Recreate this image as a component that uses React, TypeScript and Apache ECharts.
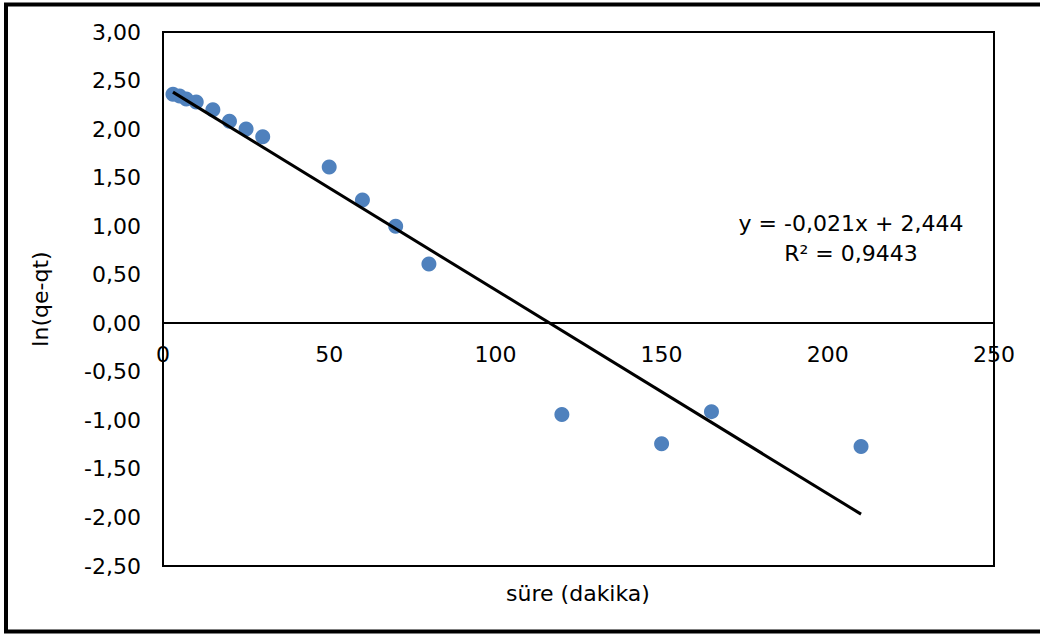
import React, { useEffect, useRef } from "react";
import * as echarts from "echarts";

const times = [3, 5, 7, 10, 15, 20, 25, 30, 50, 60, 70, 80, 120, 150, 165, 210];
const lnValues = [2.36, 2.34, 2.31, 2.28, 2.2, 2.08, 2.0, 1.92, 1.61, 1.27, 1.0, 0.61, -0.94, -1.24, -0.91, -1.27];
const slope = -0.021;
const intercept = 2.444;
const rSquared = "0,9443";
const xTitle = "süre (dakika)";
const yTitle = "ln(qe-qt)";

const FONT = "DejaVu Sans";

export default function App() {
  const ref = useRef<HTMLDivElement>(null);
  useEffect(() => {
    if (!ref.current) return;
    const chart = echarts.init(ref.current, undefined, { renderer: "svg" });
    const xMin = Math.min(...times);
    const xMax = Math.max(...times);
    const trend = [
      [xMin, slope * xMin + intercept],
      [xMax, slope * xMax + intercept],
    ];
    const fmt = (v: number) => v.toFixed(3).replace(".", ",").replace(/0$/, "");
    chart.setOption({
      animation: false,
      backgroundColor: "#fff",
      textStyle: { fontFamily: FONT },
      grid: {
        left: 163,
        top: 32,
        right: 46,
        bottom: 71,
        show: true,
        borderColor: "#000",
        borderWidth: 2,
        containLabel: false,
      },
      xAxis: {
        type: "value",
        min: 0,
        max: 250,
        interval: 50,
        offset: -243,
        axisLine: { show: true, onZero: false, lineStyle: { color: "#000", width: 2 } },
        axisTick: { show: false },
        splitLine: { show: false },
        axisLabel: { color: "#000", fontSize: 22, fontFamily: FONT, margin: 20 },
      },
      yAxis: {
        type: "value",
        min: -2.5,
        max: 3,
        interval: 0.5,
        name: yTitle,
        nameLocation: "middle",
        nameGap: 112,
        nameRotate: 90,
        nameTextStyle: { color: "#000", fontSize: 22, fontFamily: FONT },
        axisLine: { show: false },
        axisTick: { show: false },
        splitLine: { show: false },
        axisLabel: {
          color: "#000",
          fontSize: 22,
          fontFamily: FONT,
          margin: 22,
          formatter: (v: number) => v.toFixed(2).replace(".", ","),
        },
      },
      series: [
        {
          type: "scatter",
          data: times.map((t, i) => [t, lnValues[i]]),
          symbolSize: 15,
          itemStyle: { color: "#4F81BD", opacity: 1 },
          z: 2,
        },
        {
          type: "line",
          data: trend,
          symbol: "none",
          lineStyle: { color: "#000", width: 3 },
          z: 3,
        },
      ],
      graphic: [
        {
          type: "rect",
          shape: { x: 6, y: 4.5, width: 1100, height: 627 },
          style: { fill: "none", stroke: "#000", lineWidth: 4 },
          silent: true,
        },
        {
          type: "text",
          x: 578,
          y: 593,
          style: {
            text: xTitle,
            fill: "#000",
            font: `22px "${FONT}"`,
            textAlign: "center",
            textVerticalAlign: "middle",
          },
        },
        {
          type: "text",
          x: 851,
          y: 223,
          style: {
            text: `y = ${fmt(slope)}x + ${intercept.toFixed(3).replace(".", ",")}`,
            fill: "#000",
            font: `22px "${FONT}"`,
            textAlign: "center",
            textVerticalAlign: "middle",
          },
        },
        {
          type: "text",
          x: 851,
          y: 253,
          style: {
            text: `R² = ${rSquared}`,
            fill: "#000",
            font: `22px "${FONT}"`,
            textAlign: "center",
            textVerticalAlign: "middle",
          },
        },
      ],
    });
    return () => chart.dispose();
  }, []);
  return (
    <div
      ref={ref}
      style={{ position: "fixed", left: 0, top: 0, width: 1040, height: 637, background: "#fff" }}
    />
  );
}
